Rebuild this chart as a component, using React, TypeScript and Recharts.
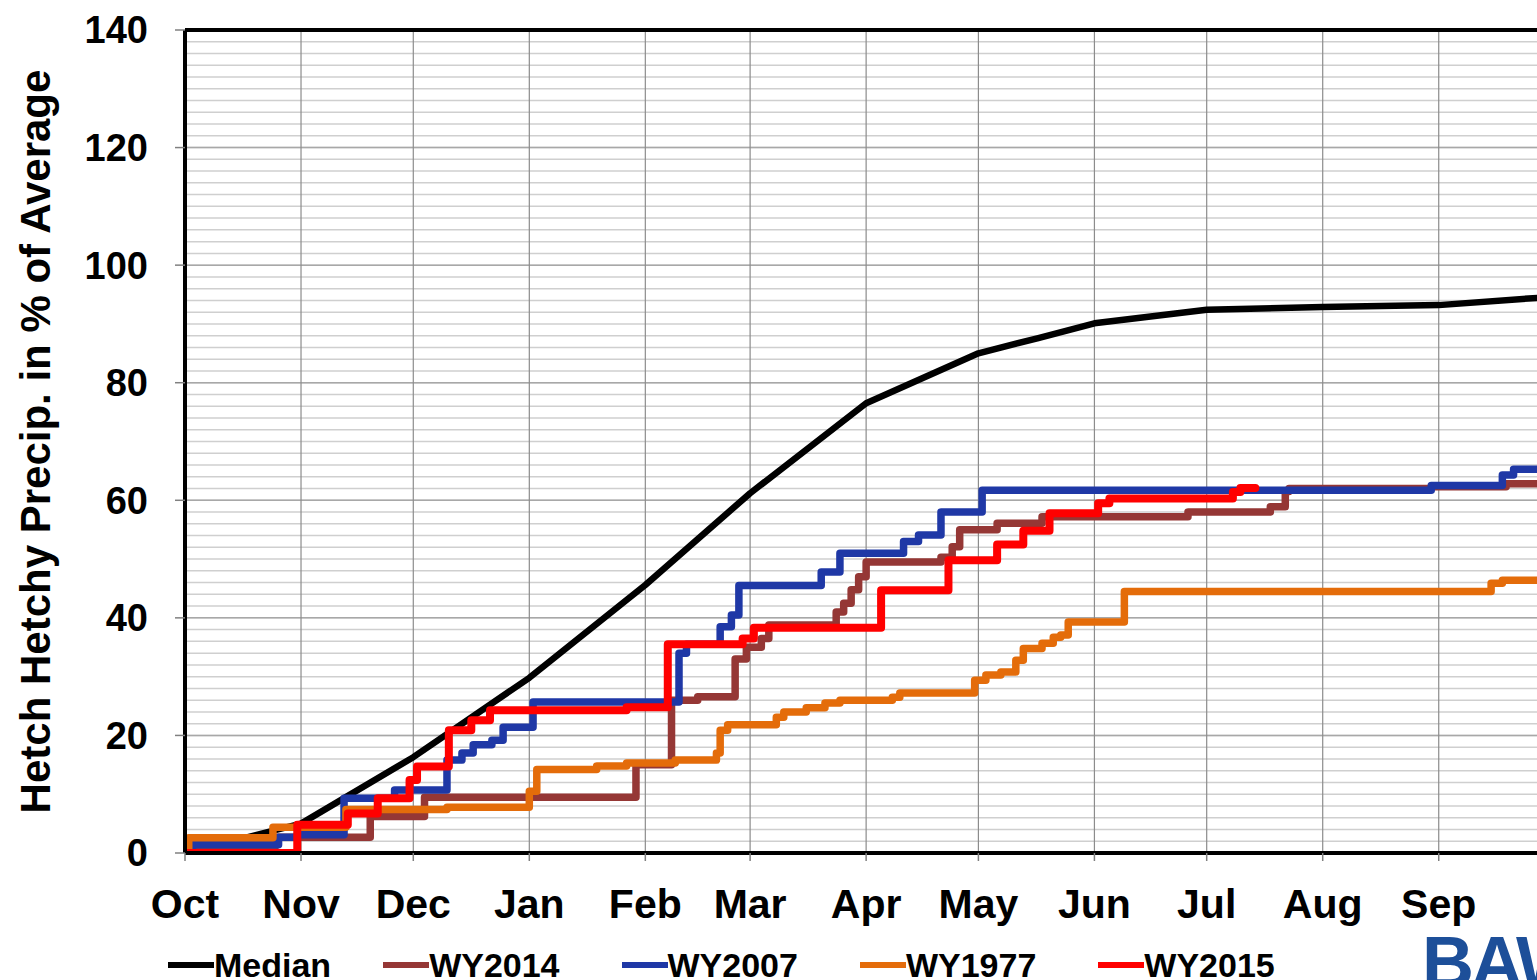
import { LineChart, Line, XAxis, YAxis, CartesianGrid, ReferenceLine, Label } from 'recharts';

const FONT = '"Liberation Sans", Arial, Helvetica, sans-serif';

// water-year day (0 = Oct 1) of each month start
const MONTH_DAYS = [0, 31, 61, 92, 123, 151, 182, 212, 243, 273, 304, 335];
const MONTH_LABELS = ['Oct', 'Nov', 'Dec', 'Jan', 'Feb', 'Mar', 'Apr', 'May', 'Jun', 'Jul', 'Aug', 'Sep'];
const Y_TICKS = [0, 20, 40, 60, 80, 100, 120, 140];

// [day, cumulative % of average]
const MEDIAN: [number, number][] = [
  [0, 0], [31, 5], [61, 16.3], [92, 29.8], [123, 45.6], [151, 61.2], [182, 76.5],
  [212, 85], [228, 87.6], [243, 90.1], [273, 92.4], [304, 92.9], [335, 93.2], [365, 94.6],
];

const WY2014: [number, number][] = [
  [0, 0.3], [24, 2.7], [49.5, 6.2], [64, 9.5], [120.5, 15], [130, 26], [137, 26.6], [147, 33],
  [150, 35], [154, 36.5], [156, 38.8], [174, 41], [176, 42.5], [178, 44.8], [180, 47], [182, 49.5],
  [202, 50.3], [205, 52.1], [207, 55], [217, 56.1], [229, 57.2], [268, 58], [290, 58.9],
  [294, 61.5], [295, 62], [333, 62.3], [353, 62.8], [365, 62.8],
];

const WY2007: [number, number][] = [
  [0, 0], [2, 1.4], [25, 2.7], [30, 3.1], [42.5, 9.3], [56, 10.7], [70, 15.8], [74, 17],
  [77, 18.4], [82, 19.2], [85, 21.4], [93, 25.7], [132, 34], [134, 35.5], [143, 38.5],
  [146, 40.5], [148, 45.5], [170, 47.8], [175, 51], [192, 53], [196, 54.1], [202, 58],
  [213, 61.7], [333, 62.5], [352, 64.3], [355, 65.3], [365, 65.3],
];

const WY1977: [number, number][] = [
  [0, 0], [1, 2.6], [23.5, 4.4], [43, 7.4], [70, 7.8], [92, 10.5], [94, 14.2], [110, 14.8],
  [118, 15.3], [131, 15.8], [142, 17], [143, 20.9], [145, 21.8], [158, 23.1], [160, 24],
  [166, 24.7], [171, 25.5], [175, 26], [189, 26.5], [191, 27.2], [211, 29.4], [214, 30.3],
  [218, 30.8], [222, 32.8], [224, 34.8], [229, 35.7], [232, 36.7], [234, 37.1], [236, 39.3],
  [251, 44.5], [349, 45.9], [352, 46.4], [365, 46.4],
];

const WY2015: [number, number][] = [
  [0, 0], [30, 4.8], [43.5, 6.7], [51.5, 9.3], [60, 12.4], [62, 14.7], [70.5, 20.9],
  [76.5, 22.6], [81.5, 24.3], [118, 24.8], [129, 35.5], [149, 36.5], [152, 38.3], [186, 44.7],
  [204, 49.8], [217, 52.5], [224, 54.8], [231, 57.8], [244, 59.5], [247, 60.3], [280, 61.4],
  [282, 62.1], [286, 62.1],
];

const SERIES = [
  { name: 'Median', color: '#000000', values: MEDIAN, type: 'linear', width: 6.5 },
  { name: 'WY2014', color: '#953735', values: WY2014, type: 'stepAfter', width: 7.5 },
  { name: 'WY2007', color: '#1f38a6', values: WY2007, type: 'stepAfter', width: 7.5 },
  { name: 'WY1977', color: '#e46c0a', values: WY1977, type: 'stepAfter', width: 7.5 },
  { name: 'WY2015', color: '#ff0000', values: WY2015, type: 'stepAfter', width: 8 },
];

const minorY = Array.from({ length: 71 }, (_, i) => i * 2);

function YTitle(props: any) {
  const vb = props.viewBox || { y: 30, height: 823 };
  const cy = vb.y + vb.height / 2;
  return (
    <text
      x={50}
      y={cy}
      transform={`rotate(-90, 50, ${cy})`}
      textAnchor="middle"
      fill="#000"
      fontSize={42}
      fontWeight={700}
      fontFamily={FONT}
    >
      Hetch Hetchy Precip. in % of Average
    </text>
  );
}

export default function App() {
  return (
    <div style={{ position: 'fixed', left: 0, top: 0, width: 1537, height: 980, overflow: 'hidden', background: '#fff' }}>
      <LineChart width={1600} height={980} margin={{ top: 30, right: 49, bottom: 0, left: 0 }}>
        <CartesianGrid horizontalValues={minorY} vertical={false} stroke="#cfcfcf" strokeWidth={1.5} />
        <CartesianGrid horizontalValues={Y_TICKS} vertical={false} stroke="#a8a8a8" strokeWidth={1.5} />
        <CartesianGrid verticalValues={MONTH_DAYS} horizontal={false} stroke="#8c8c8c" strokeWidth={1.2} />
        <XAxis
          type="number"
          dataKey="d"
          domain={[0, 365]}
          ticks={MONTH_DAYS}
          interval={0}
          allowDataOverflow
          tickFormatter={(v) => MONTH_LABELS[MONTH_DAYS.indexOf(v)] ?? ''}
          height={127}
          tickSize={8}
          tickMargin={28}
          axisLine={{ stroke: '#000', strokeWidth: 4 }}
          tickLine={{ stroke: '#808080', strokeWidth: 1.5 }}
          tick={{ fill: '#000', fontSize: 41, fontWeight: 700, fontFamily: FONT }}
        />
        <YAxis
          type="number"
          domain={[0, 140]}
          ticks={Y_TICKS}
          interval={0}
          allowDataOverflow
          width={185}
          tickSize={10}
          tickMargin={27}
          axisLine={{ stroke: '#000', strokeWidth: 4 }}
          tickLine={{ stroke: '#808080', strokeWidth: 1.5 }}
          tick={{ fill: '#000', fontSize: 38, fontWeight: 700, fontFamily: FONT }}
        >
          <Label content={<YTitle />} />
        </YAxis>
        <ReferenceLine y={140} stroke="#000" strokeWidth={4} />
        {SERIES.map((s) => (
          <Line
            key={s.name}
            data={s.values.map(([d, v]) => ({ d, v }))}
            dataKey="v"
            name={s.name}
            type={s.type as any}
            stroke={s.color}
            strokeWidth={s.width}
            strokeLinejoin="round"
            strokeLinecap="round"
            dot={false}
            activeDot={false}
            isAnimationActive={false}
          />
        ))}
      </LineChart>
      <div
        style={{
          position: 'absolute',
          left: 168,
          top: 948,
          display: 'flex',
          alignItems: 'center',
          fontFamily: FONT,
          fontWeight: 700,
          fontSize: 34,
          lineHeight: 1,
          color: '#000',
          whiteSpace: 'nowrap',
        }}
      >
        {SERIES.map((s, i) => (
          <div key={s.name} style={{ display: 'flex', alignItems: 'center', marginRight: i === 0 ? 52 : 62 }}>
            <span style={{ display: 'inline-block', width: 46, height: 6, background: s.color }} />
            <span>{s.name}</span>
          </div>
        ))}
      </div>
      <div
        style={{
          position: 'absolute',
          left: 1422,
          top: 926,
          fontFamily: FONT,
          fontWeight: 900,
          fontSize: 72,
          lineHeight: 1,
          color: '#1d4f99',
          letterSpacing: -3,
          whiteSpace: 'nowrap',
        }}
      >
        BAWSCA
      </div>
    </div>
  );
}
